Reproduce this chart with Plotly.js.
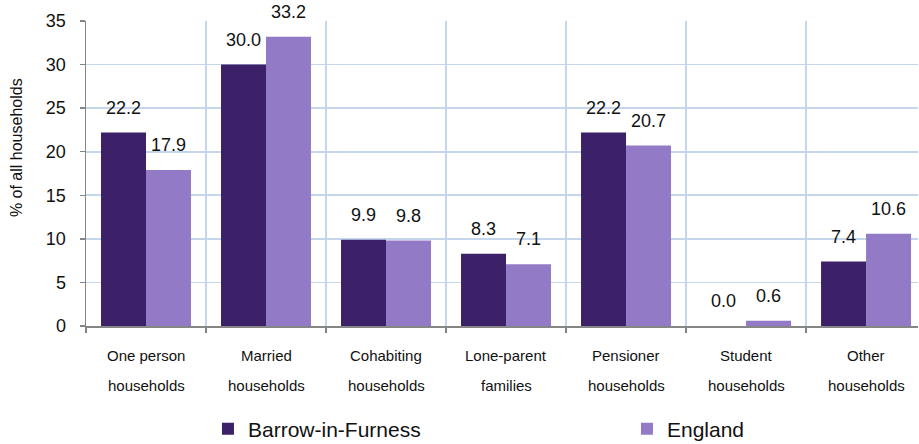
<!DOCTYPE html>
<html>
<head>
<meta charset="utf-8">
<script src="https://cdn.plot.ly/plotly-3.0.1.min.js"></script>
<style>html,body{margin:0;padding:0;background:#fff;}#chart{width:919px;height:444px;}</style>
</head>
<body>
<div id="chart"></div>
<script>
const categories = ['One person households','Married households','Cohabiting households','Lone-parent families','Pensioner households','Student households','Other households'];
const labelLine1 = ['One person','Married','Cohabiting','Lone-parent','Pensioner','Student','Other'];
const labelLine2 = ['households','households','households','families','households','households','households'];
const seriesNames = ['Barrow-in-Furness','England'];
const barrow = [22.2, 30.0, 9.9, 8.3, 22.2, 0.0, 7.4];
const england = [17.9, 33.2, 9.8, 7.1, 20.7, 0.6, 10.6];
const yTicks = [0, 5, 10, 15, 20, 25, 30, 35];
const yTitle = '% of all households';

const FONT = 'Liberation Sans, Arial, sans-serif';
const colors = ['#3c2169', '#937ac6'];

const traces = [barrow, england].map((vals, k) => {
  const t = {
    type: 'bar',
    name: seriesNames[k],
    x: categories,
    y: vals,
    marker: {color: colors[k], line: {width: 0}},
    hoverinfo: 'none'
  };
  if (k === 0) t.legendwidth = 374;
  return t;
});

const annotations = [];
[barrow, england].forEach((vals, k) => {
  vals.forEach((v, i) => {
    annotations.push({
      x: categories[i], xref: 'x', y: v, yref: 'y',
      text: v.toFixed(1), showarrow: false,
      xanchor: 'center', yanchor: 'bottom',
      xshift: k === 0 ? -22.5 : 22.5, yshift: 13,
      font: {family: FONT, size: 18, color: '#111'}
    });
  });
});
categories.forEach((c, i) => {
  annotations.push({x: c, xref: 'x', y: 0, yref: 'paper', text: labelLine1[i], showarrow: false,
    yanchor: 'middle', yshift: -29.7, font: {family: FONT, size: 15, color: '#111'}});
  annotations.push({x: c, xref: 'x', y: 0, yref: 'paper', text: labelLine2[i], showarrow: false,
    yanchor: 'middle', yshift: -59.7, font: {family: FONT, size: 15, color: '#111'}});
});
annotations.push({
  x: -0.0835, xref: 'paper', y: 0.585, yref: 'paper', text: yTitle, textangle: -90,
  showarrow: false, xanchor: 'center', yanchor: 'middle',
  font: {family: FONT, size: 16, color: '#111'}
});

const layout = {
  width: 919, height: 444,
  margin: {l: 86, r: 1, t: 21, b: 118, pad: 0, autoexpand: false},
  paper_bgcolor: '#fff', plot_bgcolor: '#fff',
  font: {family: FONT, color: '#111'},
  barmode: 'group', bargap: 0.25, bargroupgap: 0,
  showlegend: true,
  legend: {
    orientation: 'h', x: 0.1466, xanchor: 'left', y: -0.3377, yanchor: 'middle',
    font: {family: FONT, size: 21, color: '#111'},
    bgcolor: 'rgba(0,0,0,0)', borderwidth: 0
  },
  xaxis: {
    type: 'category', range: [-0.5, 6.433], fixedrange: true,
    showticklabels: false, tickson: 'boundaries', ticks: 'outside', ticklen: 5, tickwidth: 1.5,
    tickcolor: '#868686', showline: true, linecolor: '#868686', linewidth: 1.5,
    showgrid: true, gridcolor: '#c4d6ec', gridwidth: 1.6, zeroline: false
  },
  yaxis: {
    range: [0, 35], tickvals: yTicks, ticktext: yTicks.map(String), fixedrange: true,
    ticks: 'outside', ticklen: 5, tickwidth: 1.5, tickcolor: '#868686',
    showline: true, linecolor: '#868686', linewidth: 1.5,
    showgrid: true, gridcolor: '#c4d6ec', gridwidth: 1.6, zeroline: false,
    tickfont: {family: FONT, size: 18, color: '#111'}, ticklabelstandoff: 10
  },
  annotations: annotations
};

Plotly.newPlot('chart', traces, layout, {staticPlot: true, displayModeBar: false});
</script>
</body>
</html>
